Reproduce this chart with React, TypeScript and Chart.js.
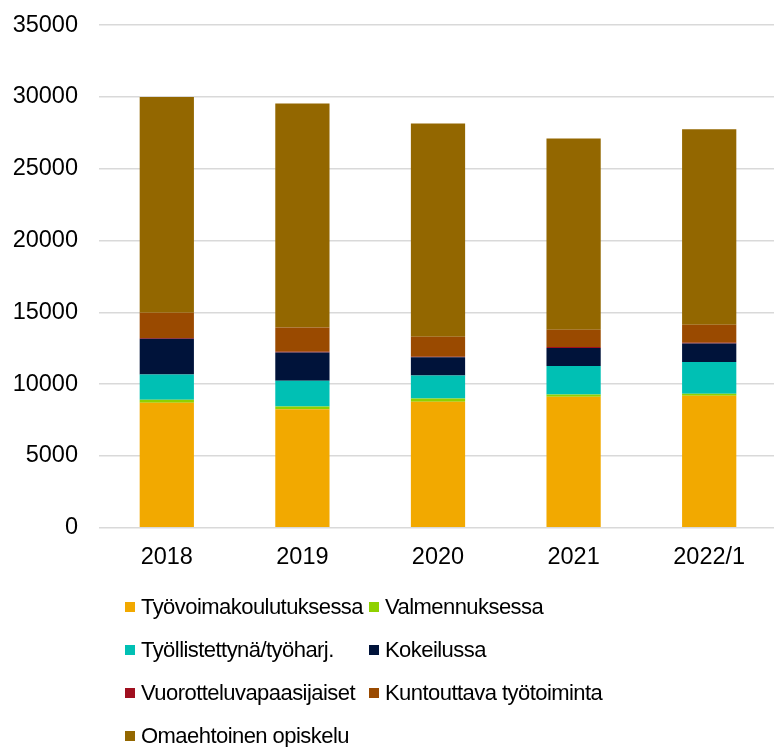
import React, { useEffect, useRef } from "react";
import { Chart, registerables } from "chart.js";

Chart.register(...registerables);

const categories = ["2018", "2019", "2020", "2021", "2022/1"];
const seriesNames = [
  "Työvoimakoulutuksessa",
  "Valmennuksessa",
  "Työllistettynä/työharj.",
  "Kokeilussa",
  "Vuorotteluvapaasijaiset",
  "Kuntouttava työtoiminta",
  "Omaehtoinen opiskelu",
];
const tyovoimakoulutus = [8700, 8250, 8770, 9120, 9190];
const valmennus = [220, 190, 230, 160, 140];
const tyollistetty = [1760, 1790, 1600, 1980, 2210];
const kokeilu = [2480, 1980, 1280, 1250, 1300];
const vuorottelu = [60, 40, 30, 80, 40];
const kuntouttava = [1750, 1700, 1400, 1200, 1250];
const omaehtoinen = [15030, 15600, 14840, 13310, 13620];
const colors = ["#F2A900", "#8FD100", "#00C0B4", "#00133A", "#A0101F", "#9A4A00", "#936700"];
const yTicks = [0, 5000, 10000, 15000, 20000, 25000, 30000, 35000];

const seriesValues = [tyovoimakoulutus, valmennus, tyollistetty, kokeilu, vuorottelu, kuntouttava, omaehtoinen];

const FONT = "'Liberation Sans', Arial, sans-serif";

export default function App() {
  const ref = useRef<HTMLCanvasElement | null>(null);
  useEffect(() => {
    if (!ref.current) return;
    const chart = new Chart(ref.current, {
      type: "bar",
      data: {
        labels: categories,
        datasets: seriesNames.map((name, i) => ({
          label: name,
          data: seriesValues[i],
          backgroundColor: colors[i],
          borderWidth: 0,
          barPercentage: 0.4,
          categoryPercentage: 1,
        })),
      },
      options: {
        responsive: false,
        animation: false,
        layout: { padding: { left: 12, right: 0, top: 0, bottom: 0 } },
        plugins: { legend: { display: false }, tooltip: { enabled: false } },
        scales: {
          x: {
            stacked: true,
            grid: { display: false, drawTicks: false },
            border: { display: false },
            ticks: { color: "#000", font: { family: FONT, size: 23.5 }, padding: 16 },
          },
          y: {
            stacked: true,
            min: 0,
            max: 35000,
            afterBuildTicks: (axis: any) => {
              axis.ticks = yTicks.map((v) => ({ value: v }));
            },
            afterFit: (axis: any) => {
              axis.width = 87;
            },
            grid: { color: "#d9d9d9", lineWidth: 1.5, drawTicks: false },
            border: { display: false },
            ticks: {
              color: "#000",
              font: { family: FONT, size: 23.5 },
              padding: 21,
              callback: (v: any) => String(v),
            },
          },
        },
      },
    });
    return () => chart.destroy();
  }, []);

  const legendRows = [
    [0, 1],
    [2, 3],
    [4, 5],
    [6],
  ];

  return (
    <div style={{ position: "absolute", left: 0, top: 0, width: 774, height: 747, overflow: "hidden", background: "#fff" }}>
      <canvas ref={ref} width={777} height={598} style={{ display: "block", marginTop: -10.5 }} />
      <div style={{ position: "absolute", left: 125, top: 585, fontFamily: FONT, fontSize: 22, letterSpacing: "-0.55px", color: "#000" }}>
        {legendRows.map((row, r) => (
          <div key={r} style={{ display: "flex", height: 43, alignItems: "center", whiteSpace: "nowrap" }}>
            {row.map((idx, c) => (
              <div key={idx} style={{ display: "flex", alignItems: "center", width: c === 0 ? 244 : "auto" }}>
                <span style={{ display: "inline-block", width: 10, height: 10, background: colors[idx], marginRight: 6 }} />
                <span>{seriesNames[idx]}</span>
              </div>
            ))}
          </div>
        ))}
      </div>
    </div>
  );
}
